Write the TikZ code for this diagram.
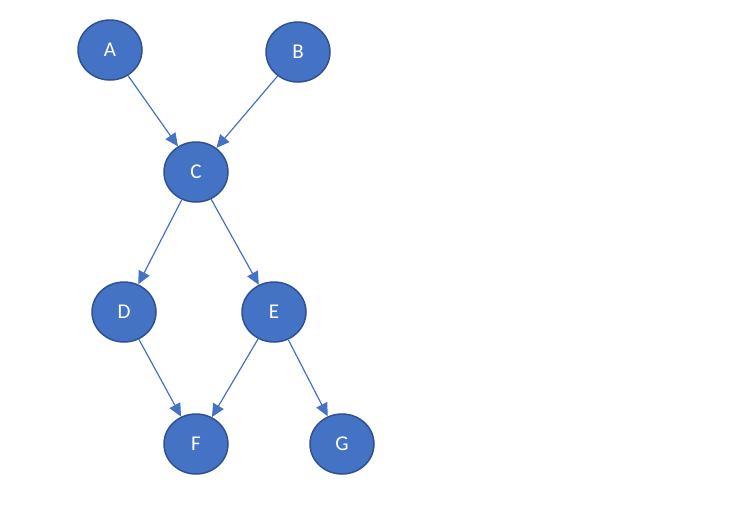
\documentclass[tikz,border=0pt]{standalone}
\usepackage{fontspec}
\setmainfont{Carlito}
\usetikzlibrary{shapes.geometric,arrows.meta}
\definecolor{nfill}{HTML}{4472C4}
\definecolor{nedge}{HTML}{2F528F}
\begin{document}
\begin{tikzpicture}[x=1pt,y=-1pt,
  vnode/.style={ellipse,draw=nedge,line width=1.5pt,fill=nfill,minimum width=64pt,minimum height=60pt,inner sep=0pt,text=white,font=\fontsize{21}{24}\selectfont},
  conn/.style={draw=nfill,line width=1.2pt,-{Triangle[length=13pt,width=12pt]}}]
\useasboundingbox (0,0) rectangle (730,509);
\node[vnode] (A) at (110,50) {A};
\node[vnode] (B) at (298,52) {B};
\node[vnode] (C) at (196,172) {C};
\node[vnode] (D) at (124,312) {D};
\node[vnode] (E) at (274,312) {E};
\node[vnode] (F) at (196,444) {F};
\node[vnode] (G) at (342,444) {G};
\draw[conn] (A) -- (C);
\draw[conn] (B) -- (C);
\draw[conn] (C) -- (D);
\draw[conn] (C) -- (E);
\draw[conn] (D) -- (F);
\draw[conn] (E) -- (F);
\draw[conn] (E) -- (G);
\end{tikzpicture}
\end{document}
